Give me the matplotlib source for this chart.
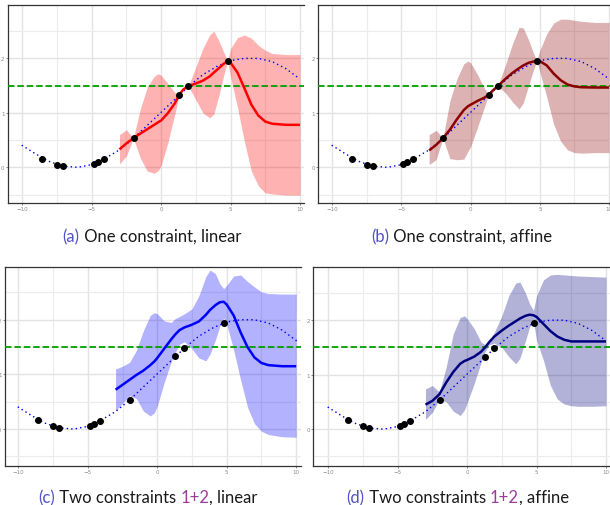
import numpy as np
import matplotlib
matplotlib.use("Agg")
import matplotlib.pyplot as plt
from matplotlib.ticker import MultipleLocator

W, H = 610, 506

# true function (dotted)
true_x = [-10, -9, -8, -7, -6, -5, -4, -3, -2, -1, 0, 1, 2, 3, 4, 5, 6, 7, 8, 9, 10]
true_y = [0.40, 0.24, 0.10, 0.02, 0.00, 0.05, 0.17, 0.32, 0.53, 0.77, 1.01, 1.25, 1.49,
          1.70, 1.85, 1.96, 2.00, 2.00, 1.94, 1.81, 1.62]

# observations
obs_x = [-8.56, -7.48, -7.05, -4.86, -4.58, -4.14, -1.99, 1.29, 1.96, 4.79]
obs_y = [0.16, 0.05, 0.02, 0.06, 0.09, 0.15, 0.53, 1.33, 1.49, 1.95]

threshold = 1.5

# posterior mean and band, shared x grid
gp_x = [-3.0, -2.5, -2.0, -1.5, -1.0, -0.5, -0.2, 0.0, 0.5, 1.0, 1.29, 1.6, 1.96, 2.5, 3.0,
        3.5, 3.8, 4.2, 4.5, 4.78, 5.0, 5.5, 6.0, 6.5, 7.0, 7.5, 8.0, 9.0, 10.0]

mean_a = [0.33, 0.44, 0.535, 0.62, 0.70, 0.78, 0.83, 0.86, 1.00, 1.18, 1.33, 1.43, 1.49, 1.54, 1.59,
          1.67, 1.74, 1.83, 1.90, 1.95, 1.92, 1.74, 1.45, 1.15, 0.95, 0.84, 0.80, 0.78, 0.78]
upper_a = [0.60, 0.69, 0.535, 1.07, 1.47, 1.67, 1.72, 1.69, 1.53, 1.37, 1.33, 1.44, 1.49, 1.84, 2.18,
           2.43, 2.50, 2.30, 2.12, 1.95, 2.18, 2.38, 2.43, 2.37, 2.24, 2.15, 2.09, 2.07, 2.07]
lower_a = [0.06, 0.21, 0.535, 0.17, -0.07, -0.11, -0.06, 0.03, 0.47, 0.99, 1.33, 1.42, 1.49, 1.24, 1.00,
           0.91, 0.98, 1.36, 1.68, 1.95, 1.66, 1.10, 0.47, -0.07, -0.34, -0.47, -0.49, -0.51, -0.51]

mean_b = [0.31, 0.41, 0.535, 0.69, 0.88, 1.05, 1.12, 1.15, 1.22, 1.28, 1.33, 1.41, 1.49, 1.62, 1.73,
          1.82, 1.87, 1.92, 1.94, 1.955, 1.95, 1.87, 1.72, 1.60, 1.52, 1.485, 1.47, 1.465, 1.465]
upper_b = [0.60, 0.68, 0.535, 1.22, 1.62, 1.90, 1.95, 1.92, 1.70, 1.45, 1.33, 1.43, 1.49, 1.87, 2.25,
           2.57, 2.56, 2.33, 2.12, 1.955, 2.15, 2.45, 2.65, 2.72, 2.72, 2.70, 2.68, 2.66, 2.66]
lower_b = [0.05, 0.14, 0.535, 0.16, 0.14, 0.15, 0.29, 0.38, 0.74, 1.11, 1.33, 1.39, 1.49, 1.37, 1.21,
           1.07, 1.18, 1.51, 1.76, 1.955, 1.75, 1.29, 0.79, 0.48, 0.32, 0.27, 0.26, 0.27, 0.27]

mean_c = [0.72, 0.81, 0.90, 0.99, 1.07, 1.17, 1.24, 1.30, 1.47, 1.64, 1.73, 1.81, 1.86, 1.91, 1.97,
          2.09, 2.18, 2.27, 2.32, 2.33, 2.28, 2.08, 1.77, 1.50, 1.31, 1.21, 1.17, 1.15, 1.15]
upper_c = [1.10, 1.15, 1.22, 1.44, 1.80, 2.08, 2.13, 2.11, 1.98, 1.95, 2.02, 2.06, 2.11, 2.20, 2.44,
           2.79, 2.91, 2.84, 2.66, 2.57, 2.63, 2.80, 2.82, 2.70, 2.60, 2.51, 2.48, 2.47, 2.47]
lower_c = [0.34, 0.47, 0.61, 0.56, 0.33, 0.24, 0.30, 0.42, 0.85, 1.23, 1.40, 1.55, 1.60, 1.47, 1.30,
           1.25, 1.37, 1.64, 1.88, 2.03, 1.92, 1.45, 0.90, 0.40, 0.10, -0.04, -0.10, -0.14, -0.15]

mean_d = [0.45, 0.52, 0.64, 0.86, 1.05, 1.20, 1.25, 1.27, 1.33, 1.42, 1.50, 1.60, 1.70, 1.81, 1.90,
          1.98, 2.03, 2.08, 2.10, 2.09, 2.06, 1.93, 1.80, 1.70, 1.64, 1.61, 1.61, 1.61, 1.61]
upper_d = [0.74, 0.80, 0.68, 1.15, 1.75, 2.05, 2.08, 2.03, 1.85, 1.60, 1.55, 1.62, 1.78, 2.08, 2.45,
           2.68, 2.70, 2.50, 2.30, 2.18, 2.45, 2.74, 2.83, 2.84, 2.83, 2.82, 2.81, 2.80, 2.79]
lower_d = [0.18, 0.31, 0.55, 0.50, 0.33, 0.25, 0.35, 0.48, 0.83, 1.22, 1.42, 1.55, 1.58, 1.50, 1.33,
           1.20, 1.30, 1.62, 1.88, 1.97, 1.63, 1.26, 0.80, 0.55, 0.46, 0.43, 0.42, 0.42, 0.43]

fig = plt.figure(figsize=(W / 100, H / 100), dpi=100)


def panel(box, xlim, ylim, mean, upper, lower, col):
    left, top, right, bottom = box
    ax = fig.add_axes([left / W, 1 - bottom / H, (right - left) / W, (bottom - top) / H])
    ax.set_xlim(*xlim)
    ax.set_ylim(*ylim)
    ax.xaxis.set_major_locator(MultipleLocator(5))
    ax.xaxis.set_minor_locator(MultipleLocator(2.5))
    ax.yaxis.set_major_locator(MultipleLocator(1))
    ax.yaxis.set_minor_locator(MultipleLocator(0.5))
    ax.grid(which="major", color="#e3e3e3", lw=1.0, zorder=0)
    ax.grid(which="minor", color="#ececec", lw=0.8, zorder=0)
    ax.set_axisbelow(True)
    ax.tick_params(which="major", length=1.5, width=0.5, color="#555555", pad=1,
                   labelsize=4, labelcolor="#888888")
    ax.tick_params(which="minor", length=0)
    for s in ["left", "top", "bottom"]:
        ax.spines[s].set_color("#333333")
        ax.spines[s].set_linewidth(0.9)
    ax.spines["right"].set_visible(False)

    ax.fill_between(gp_x, lower, upper, color=col, alpha=0.3, lw=0, zorder=1)
    ax.plot(true_x, true_y, color="blue", lw=1.2, ls=(0, (0.01, 2.7)),
            dash_capstyle="round", zorder=2)
    ax.axhline(threshold, color="#00a000", lw=1.3, ls=(0, (3.6, 1.6)), zorder=3)
    ax.plot(gp_x, mean, color=col, lw=1.8, zorder=4, solid_capstyle="butt")
    ax.plot(obs_x, obs_y, "o", color="black", ms=4, zorder=5)
    return ax


panel((8, 6, 304, 204), (-11.03, 10.29), (-0.655, 2.98), mean_a, upper_a, lower_a, "red")
panel((318.3, 6, 610, 204), (-11.01, 10.07), (-0.655, 2.98), mean_b, upper_b, lower_b, "darkred")
panel((5, 268.3, 301, 466.7), (-10.96, 10.35), (-0.67, 2.96), mean_c, upper_c, lower_c, "blue")
panel((313.3, 268.3, 610, 466.7), (-11.08, 10.29), (-0.67, 2.97), mean_d, upper_d, lower_d, "navy")

# captions, several coloured pieces
lab_col = "#5252c4"
num_col = "#9a3d9a"
txt_col = "#1a1a1a"
captions = [
    (151.7, 237, [("(a)", lab_col), (" One constraint, linear", txt_col)]),
    (461.7, 237, [("(b)", lab_col), (" One constraint, affine", txt_col)]),
    (148.0, 498, [("(c)", lab_col), (" Two constraints ", txt_col), ("1+2", num_col), (", linear", txt_col)]),
    (457.8, 498, [("(d)", lab_col), (" Two constraints ", txt_col), ("1+2", num_col), (", affine", txt_col)]),
]
renderer = fig.canvas.get_renderer()
for cx, cy, pieces in captions:
    texts = []
    for s, c in pieces:
        t = fig.text(0, 1 - cy / H, s, color=c, fontsize=12, family="Lato", va="center", ha="left")
        texts.append(t)
    widths = [t.get_window_extent(renderer).width for t in texts]
    x = cx - sum(widths) / 2
    for t, w in zip(texts, widths):
        t.set_x(x / W)
        x += w

fig.savefig("out.png", dpi=100)
